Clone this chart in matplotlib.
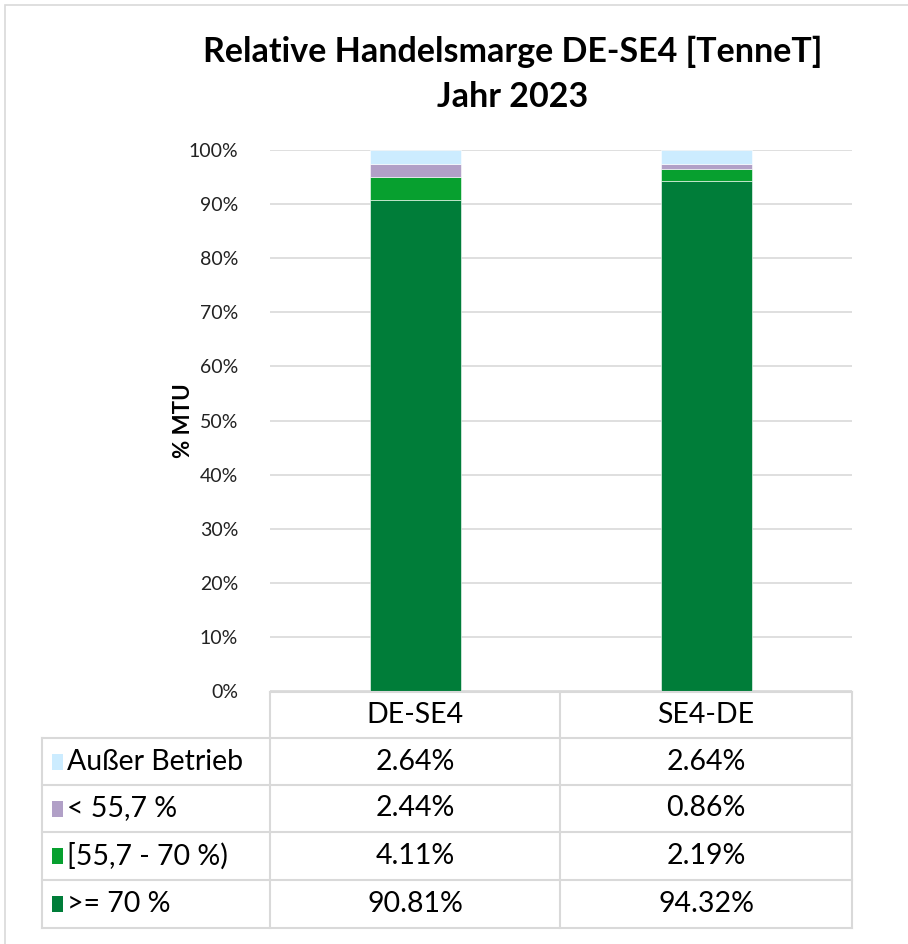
import numpy as np
import matplotlib.pyplot as plt
from matplotlib.patches import Rectangle
from matplotlib.lines import Line2D

plt.rcParams['font.family'] = ['Lato', 'DejaVu Sans']

categories = ['DE-SE4', 'SE4-DE']
series_names = ['>= 70 %', '[55,7 - 70 %)', '< 55,7 %', 'Außer Betrieb']
series_values = [
    [90.81, 94.32],
    [4.11, 2.19],
    [2.44, 0.86],
    [2.64, 2.64],
]
colors = ['#007D39', '#07A02F', '#B1A0C7', '#CCECFF']
yticks = np.arange(0, 101, 10)

W, H = 908, 944
fig = plt.figure(figsize=(W / 100, H / 100), dpi=100)


def fx(px):
    return px / W


def fy(py):
    return 1 - py / H


# outer chart border (clipped at right/bottom like the screenshot)
fig.add_artist(Rectangle((fx(5), fy(960)), fx(920), 955 / H, transform=fig.transFigure,
                         fill=False, edgecolor='#D9D9D9', lw=1.2))

ax = fig.add_axes([fx(270), fy(691), fx(852) - fx(270), fy(150) - fy(691)])
x = np.arange(len(categories))
bottom = np.zeros(len(categories))
for vals, c in zip(series_values, colors):
    ax.bar(x, vals, 0.31, bottom=bottom, color=c, edgecolor='#FFFFFF', linewidth=0.4, zorder=3)
    bottom += np.array(vals)

ax.set_xlim(-0.5, len(categories) - 0.5)
ax.set_ylim(0, 100)
ax.set_yticks(yticks)
ax.set_yticklabels([f'{v}%' for v in yticks], fontsize=14, color='#222222')
ax.set_xticks([])
ax.grid(axis='y', color='#D9D9D9', lw=1.2, zorder=0)
for s in ax.spines.values():
    s.set_visible(False)
ax.tick_params(axis='y', length=0, pad=23)
ax.set_ylabel('% MTU', fontsize=16, fontweight='bold')
ax.yaxis.set_label_coords(-0.13, 0.5)

fig.text(0.565, fy(52), 'Relative Handelsmarge DE-SE4 [TenneT]', ha='center', va='center',
         fontsize=24.5, fontweight='bold')
fig.text(0.565, fy(97), 'Jahr 2023', ha='center', va='center', fontsize=24.5, fontweight='bold')

# data table
grid_c = '#D9D9D9'
col_edges = [42, 270, 560, 852]
row_edges = [692, 738, 785, 832, 880, 928]


def hline(x0, x1, y):
    fig.add_artist(Line2D([fx(x0), fx(x1)], [fy(y), fy(y)], transform=fig.transFigure,
                          color=grid_c, lw=1.5))


def vline(xp, y0, y1):
    fig.add_artist(Line2D([fx(xp), fx(xp)], [fy(y0), fy(y1)], transform=fig.transFigure,
                          color=grid_c, lw=1.5))


hline(col_edges[1], col_edges[3], row_edges[0])
for y in row_edges[1:]:
    hline(col_edges[0], col_edges[3], y)
vline(col_edges[0], row_edges[1], row_edges[-1])
for xp in col_edges[1:]:
    vline(xp, row_edges[0], row_edges[-1])

col_centers = [(col_edges[i] + col_edges[i + 1]) / 2 for i in range(1, 3)]
hy = (row_edges[0] + row_edges[1]) / 2
for cx, cat in zip(col_centers, categories):
    fig.text(fx(cx), fy(hy), cat, ha='center', va='center', fontsize=20.5)

# rows listed top-down in reverse stacking order
for r, k in enumerate(range(len(series_names) - 1, -1, -1)):
    y0, y1 = row_edges[r + 1], row_edges[r + 2]
    cy = (y0 + y1) / 2
    fig.add_artist(Rectangle((fx(52), fy(cy + 8)), fx(11), 16 / H, transform=fig.transFigure,
                             color=colors[k], lw=0))
    fig.text(fx(67), fy(cy), series_names[k], ha='left', va='center', fontsize=20.5)
    for cx, v in zip(col_centers, series_values[k]):
        fig.text(fx(cx), fy(cy), f'{v:.2f}%', ha='center', va='center', fontsize=20.5)

fig.savefig('out.png', dpi=100)
